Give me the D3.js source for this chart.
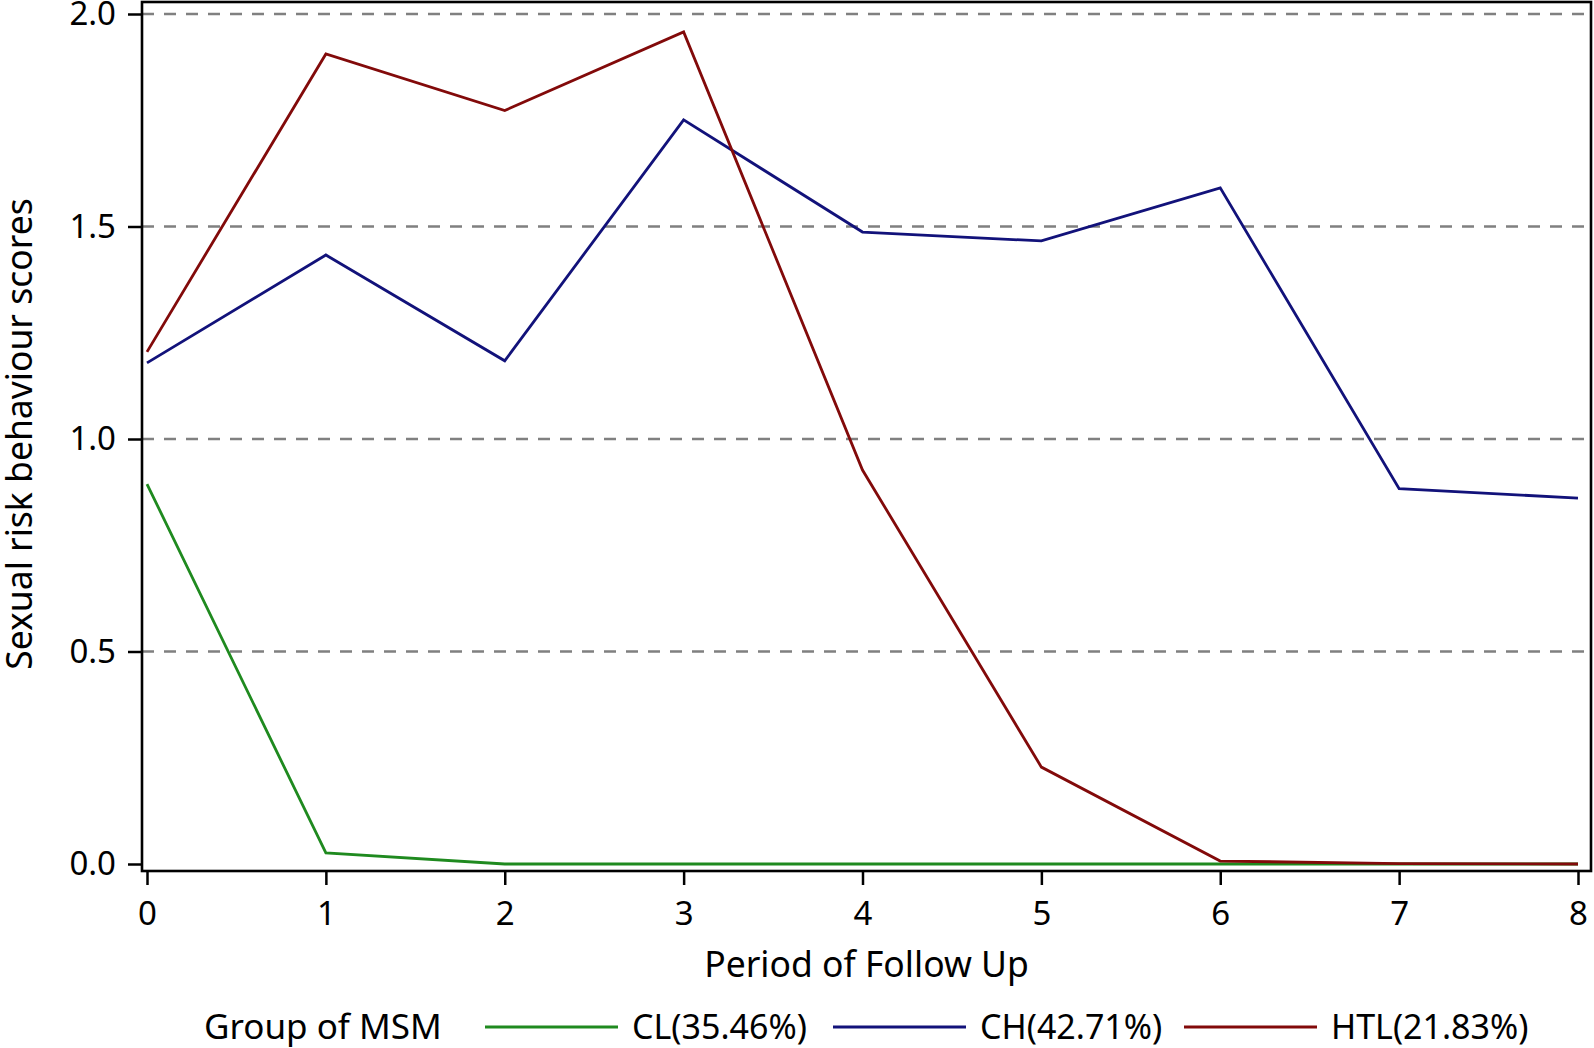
<html>
<head>
<meta charset="utf-8">
<title>Sexual risk behaviour scores</title>
<script src="https://d3js.org/d3.v7.min.js"></script>
<style>
  body { margin: 0; background: white; }
  text { font-family: "Noto Sans", "Open Sans", sans-serif; fill: #000; }
  .axis text { font-size: 33px; }
  .axis line { stroke: #000; stroke-width: 2.5px; }
  .grid { stroke: #808080; stroke-width: 2.4px; stroke-dasharray: 12 10; }
  .title { font-size: 35.5px; }
  .legend text { font-size: 34px; }
</style>
</head>
<body>
<div id="chart"></div>
<script>
// data
const periods = [0, 1, 2, 3, 4, 5, 6, 7, 8];
const clValues = [0.894, 0.026, 0, 0, 0, 0, 0, 0, 0];
const chValues = [1.179, 1.433, 1.184, 1.751, 1.487, 1.466, 1.591, 0.883, 0.861];
const htlValues = [1.205, 1.906, 1.773, 1.958, 0.927, 0.228, 0.007, 0.001, 0.0];
const groupNames = ["CL(35.46%)", "CH(42.71%)", "HTL(21.83%)"];
const groupColors = ["#1f8a1f", "#12127a", "#820a0a"];
const yTicks = [0, 0.5, 1.0, 1.5, 2.0];
const gridTicks = [0.5, 1.0, 1.5, 2.0];

const width = 1594, height = 1048;
const frame = {left: 142, right: 1591, top: 2, bottom: 871};

const svg = d3.select("#chart").append("svg")
  .attr("width", width)
  .attr("height", height);

const x = d3.scaleLinear().domain([0, 8]).range([147, 1578]);
const y = d3.scaleLinear().domain([0, 2]).range([864, 14]);

// dashed reference lines
svg.append("g").selectAll("line")
  .data(gridTicks)
  .enter().append("line")
  .attr("class", "grid")
  .attr("x1", frame.left).attr("x2", frame.right)
  .attr("y1", d => y(d)).attr("y2", d => y(d));

// series
const series = [clValues, chValues, htlValues];
const line = d3.line()
  .x((d, i) => x(periods[i]))
  .y(d => y(d));

// draw order: green, blue, red (red sits on top at the bottom)
series.forEach((vals, k) => {
  svg.append("path")
    .datum(vals)
    .attr("d", line)
    .attr("fill", "none")
    .attr("stroke", groupColors[k])
    .attr("stroke-width", 2.8)
    .attr("stroke-linejoin", "miter");
});

// frame
svg.append("rect")
  .attr("x", frame.left).attr("y", frame.top)
  .attr("width", frame.right - frame.left)
  .attr("height", frame.bottom - frame.top)
  .attr("fill", "none")
  .attr("stroke", "#000")
  .attr("stroke-width", 2.6);

// axes
const yAxis = svg.append("g")
  .attr("class", "axis")
  .attr("transform", `translate(${frame.left},0)`)
  .call(d3.axisLeft(y).tickValues(yTicks).tickFormat(d3.format(".1f")).tickSize(14).tickPadding(12));
yAxis.select(".domain").remove();

const xAxis = svg.append("g")
  .attr("class", "axis")
  .attr("transform", `translate(0,${frame.bottom})`)
  .call(d3.axisBottom(x).tickValues(periods).tickFormat(d3.format("d")).tickSize(14).tickPadding(17));
xAxis.select(".domain").remove();

// titles
svg.append("text")
  .attr("class", "title")
  .attr("x", (frame.left + frame.right) / 2)
  .attr("y", 977)
  .attr("text-anchor", "middle")
  .text("Period of Follow Up");

svg.append("text")
  .attr("class", "title")
  .attr("transform", "translate(32,434) rotate(-90)")
  .attr("text-anchor", "middle")
  .text("Sexual risk behaviour scores");

// legend
const legend = svg.append("g").attr("class", "legend");
legend.append("text")
  .attr("x", 204).attr("y", 1039)
  .style("font-size", "35px")
  .text("Group of MSM");

const legendX = [485, 833, 1184];
groupNames.forEach((name, k) => {
  legend.append("line")
    .attr("x1", legendX[k]).attr("x2", legendX[k] + 133)
    .attr("y1", 1027).attr("y2", 1027)
    .attr("stroke", groupColors[k])
    .attr("stroke-width", 2.8);
  legend.append("text")
    .attr("x", legendX[k] + 147).attr("y", 1039)
    .text(name);
});
</script>
</body>
</html>
